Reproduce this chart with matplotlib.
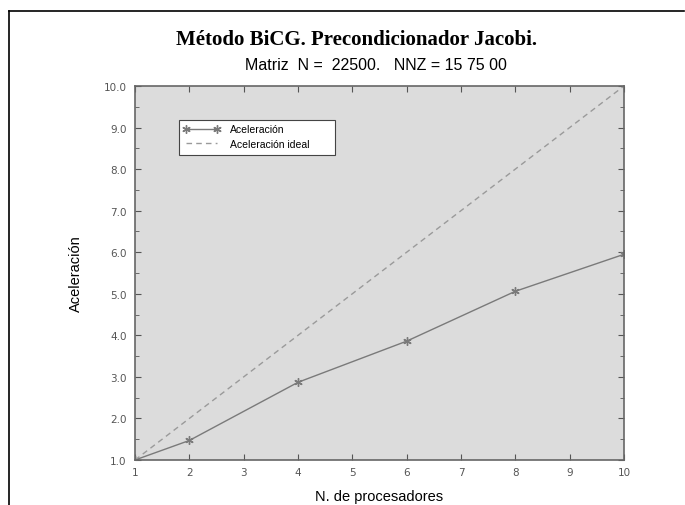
import matplotlib
matplotlib.use('Agg')
import matplotlib.pyplot as plt
from matplotlib.lines import Line2D
from matplotlib.patches import Rectangle
from matplotlib.ticker import MultipleLocator, FormatStrFormatter

# data
procesadores = [1, 2, 4, 6, 8, 10]
aceleracion = [1.0, 1.47, 2.87, 3.86, 5.06, 5.95]
ideal_x = [1, 10]
ideal_y = [1.0, 10.0]

fig = plt.figure(figsize=(6.85, 5.06), dpi=100)
W, H = 685, 506
ax = fig.add_axes([135 / W, 1 - 461 / H, (624 - 135) / W, (461 - 87) / H])
ax.set_facecolor('#dcdcdc')

gray = '#7a7a7a'
ax.plot(procesadores, aceleracion, color=gray, lw=1.0, marker=(6, 2, 0),
        markersize=6, markeredgewidth=1.0, label='Aceleración')
ax.plot(ideal_x, ideal_y, color='#9a9a9a', lw=1.0, ls=(0, (4, 3)),
        label='Aceleración ideal')

ax.set_xlim(1, 10)
ax.set_ylim(1, 10)
ax.xaxis.set_major_locator(MultipleLocator(1))
ax.yaxis.set_major_locator(MultipleLocator(1))
ax.yaxis.set_minor_locator(MultipleLocator(0.5))
ax.yaxis.set_major_formatter(FormatStrFormatter('%.1f'))
ax.tick_params(which='both', direction='in', top=True, right=True,
               color='#555555', labelsize=7.5, labelcolor='#555555')
ax.tick_params(which='major', length=4)
ax.tick_params(which='minor', length=3)
ax.tick_params(axis='y', pad=6)
ax.tick_params(axis='x', pad=5)
for s in ax.spines.values():
    s.set_color('#666666')
    s.set_linewidth(1.2)

for lbl in ax.get_xticklabels() + ax.get_yticklabels():
    lbl.set_family('DejaVu Sans')

ax.set_xlabel('N. de procesadores', fontsize=10.5, family='Liberation Sans')
ax.xaxis.set_label_coords(0.5, -(497 - 461) / 374)
ax.xaxis.label.set_va('center')
ax.set_ylabel('Aceleración', fontsize=10.5, family='Liberation Sans')
ax.yaxis.set_label_coords(-(135 - 76) / 489, 0.5)
ax.yaxis.label.set_va('center')

leg = ax.legend(loc='upper left', bbox_to_anchor=((179 - 135) / 489, (461 - 121) / 374),
                frameon=True, fancybox=False, framealpha=1, numpoints=2,
                handlelength=3.5, handletextpad=1.0,
                borderpad=0.4, labelspacing=0.45, borderaxespad=0,
                prop={'family': 'Liberation Sans', 'size': 7.5})
# the reference box is wider than the entries, so draw the frame by hand
leg.get_frame().set_visible(False)
ax.add_patch(Rectangle(((179 - 135) / 489, (461 - 156) / 374), (335 - 179) / 489, 35 / 374,
                       transform=ax.transAxes, facecolor='white', edgecolor='#444444',
                       lw=0.8, zorder=4.5))

fig.text(357 / W, 1 - 40 / H, 'Método BiCG. Precondicionador Jacobi.',
         ha='center', va='center', fontsize=15, fontweight='bold',
         family='Liberation Serif')
fig.text(376 / W, 1 - 66 / H, 'Matriz  N =  22500.   NNZ = 15 75 00',
         ha='center', va='center', fontsize=11.5, family='Liberation Sans')

# partial page frame (top and left edges)
fig.add_artist(Line2D([9 / W, 684 / W], [1 - 12 / H, 1 - 12 / H], color='black', lw=1.2))
fig.add_artist(Line2D([9 / W, 9 / W], [1 - 12 / H, 0], color='black', lw=1.2))

fig.savefig('out.png', dpi=100)
